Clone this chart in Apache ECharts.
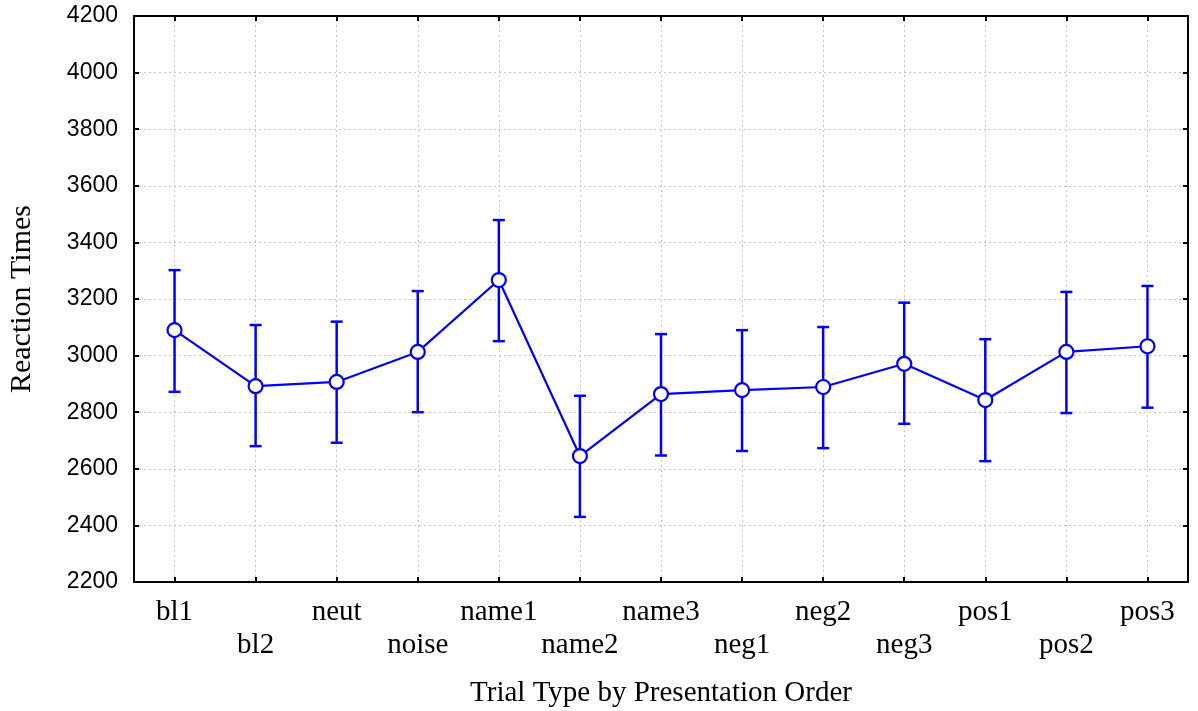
<!DOCTYPE html>
<html>
<head>
<meta charset="utf-8">
<script src="https://cdn.jsdelivr.net/npm/echarts@6/dist/echarts.min.js"></script>
<style>
  html, body { margin: 0; padding: 0; background: #fff; }
  #chart { width: 1198px; height: 711px; }
</style>
</head>
<body>
<div id="chart"></div>
<script>
// Trial types in presentation order
const categories = ['bl1', 'bl2', 'neut', 'noise', 'name1', 'name2', 'name3',
                    'neg1', 'neg2', 'neg3', 'pos1', 'pos2', 'pos3'];
// Mean reaction times (ms)
const means = [3090, 2892, 2907, 3013, 3267, 2645, 2864, 2878, 2889, 2971, 2843, 3013, 3033];
// Error bar bounds
const lower = [2872, 2680, 2692, 2800, 3051, 2430, 2647, 2663, 2673, 2759, 2627, 2797, 2816];
const upper = [3302, 3108, 3120, 3228, 3479, 2858, 3076, 3090, 3101, 3187, 3058, 3225, 3246];
// Value axis ticks
const yTicks = [2200, 2400, 2600, 2800, 3000, 3200, 3400, 3600, 3800, 4000, 4200];

const BLUE = '#0000ff';
const serif = '"Liberation Serif", "Times New Roman", serif';
const sans = '"Liberation Sans", Arial, sans-serif';

const chart = echarts.init(document.getElementById('chart'));

const errorData = categories.map((c, i) => [i, lower[i], upper[i]]);

chart.setOption({
  animation: false,
  backgroundColor: '#fff',
  grid: { left: 134, right: 10, top: 16, bottom: 129, outerBoundsMode: 'none', containLabel: false },
  xAxis: [
    {
      type: 'category',
      data: categories,
      position: 'bottom',
      boundaryGap: true,
      name: 'Trial Type by Presentation Order',
      nameLocation: 'middle',
      nameGap: 97,
      nameTextStyle: { fontFamily: serif, fontSize: 29, color: '#000' },
      axisLine: { show: true, onZero: false, lineStyle: { color: '#000', width: 2 } },
      axisTick: { show: true, inside: true, length: 5, alignWithLabel: true, interval: 0,
                  lineStyle: { color: '#000', width: 2 } },
      axisLabel: {
        interval: 0, margin: 14, color: '#000', fontFamily: serif, fontSize: 29, lineHeight: 33,
        formatter: (v, i) => (i % 2 ? '\n' + v : v)
      },
      splitLine: { show: false }
    },
    {
      type: 'category',
      data: categories,
      position: 'top',
      boundaryGap: true,
      axisLine: { show: true, onZero: false, lineStyle: { color: '#000', width: 2 } },
      axisTick: { show: true, inside: true, length: 5, alignWithLabel: true, interval: 0,
                  lineStyle: { color: '#000', width: 2 } },
      axisLabel: { show: false },
      splitLine: { show: false }
    }
  ],
  yAxis: [
    {
      type: 'value',
      min: yTicks[0],
      max: yTicks[yTicks.length - 1],
      interval: 200,
      position: 'left',
      name: 'Reaction Times',
      nameLocation: 'middle',
      nameRotate: 90,
      nameGap: 97,
      nameTextStyle: { fontFamily: serif, fontSize: 30, color: '#000' },
      axisLine: { show: true, onZero: false, lineStyle: { color: '#000', width: 2 } },
      axisTick: { show: true, inside: true, length: 5, lineStyle: { color: '#000', width: 2 } },
      axisLabel: { margin: 16, color: '#000', fontFamily: sans, fontSize: 23,
                   padding: [4, 0, 0, 0],
                   formatter: v => String(v) },
      splitLine: { show: true, lineStyle: { color: '#c4c4c4', type: [2, 3], width: 1 } }
    },
    {
      type: 'value',
      min: yTicks[0],
      max: yTicks[yTicks.length - 1],
      interval: 200,
      position: 'right',
      axisLine: { show: true, onZero: false, lineStyle: { color: '#000', width: 2 } },
      axisTick: { show: true, inside: true, length: 5, lineStyle: { color: '#000', width: 2 } },
      axisLabel: { show: false },
      splitLine: { show: false }
    }
  ],
  series: [
    {
      // vertical dotted gridlines at each category
      type: 'line',
      data: [],
      z: 0,
      silent: true,
      markLine: {
        z: 0,
        silent: true,
        symbol: 'none',
        label: { show: false },
        emphasis: { disabled: true },
        lineStyle: { color: '#c4c4c4', type: [2, 3], width: 1 },
        data: categories.map(c => ({ xAxis: c }))
      }
    },
    {
      type: 'custom',
      z: 3,
      data: errorData,
      renderItem: function (params, api) {
        const x = api.coord([api.value(0), api.value(1)])[0];
        const yLo = api.coord([api.value(0), api.value(1)])[1];
        const yHi = api.coord([api.value(0), api.value(2)])[1];
        const cap = 6;
        const style = { stroke: BLUE, lineWidth: 2.5 };
        return {
          type: 'group',
          children: [
            { type: 'line', shape: { x1: x, y1: yLo, x2: x, y2: yHi }, style },
            { type: 'line', shape: { x1: x - cap, y1: yLo, x2: x + cap, y2: yLo }, style },
            { type: 'line', shape: { x1: x - cap, y1: yHi, x2: x + cap, y2: yHi }, style }
          ]
        };
      }
    },
    {
      type: 'line',
      z: 4,
      data: means,
      symbol: 'circle',
      symbolSize: 14,
      showAllSymbol: true,
      lineStyle: { color: BLUE, width: 2.2 },
      itemStyle: { color: '#fff', borderColor: BLUE, borderWidth: 2.2 }
    }
  ]
});
</script>
</body>
</html>
